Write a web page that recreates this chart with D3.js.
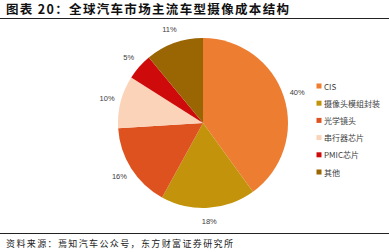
<!DOCTYPE html>
<html>
<head>
<meta charset="utf-8">
<script src="https://cdn.jsdelivr.net/npm/d3@7"></script>
<style>
  html, body { margin: 0; padding: 0; background: #fff; }
  svg { display: block; }
</style>
</head>
<body>
<svg id="chart" width="389" height="252"></svg>
<script>
// Camera cost breakdown of mainstream models in the global auto market
const categories = ["CIS", "摄像头模组封装", "光学镜头", "串行器芯片", "PMIC芯片", "其他"];
const shares = [40, 18, 16, 10, 5, 11];
const colors = ["#ED7D31", "#C3940B", "#DE5220", "#FAD3B8", "#CF0A0A", "#9A6503"];

const svg = d3.select("#chart");
const W = 389, H = 252;
const fontCN = "'Noto Sans CJK SC', 'Noto Sans', sans-serif";

// Title and rules
svg.append("text")
  .attr("x", 6).attr("y", 14)
  .attr("font-family", fontCN)
  .attr("font-size", 12.5).attr("font-weight", "bold")
  .attr("fill", "#111")
  .attr("textLength", 283).attr("lengthAdjust", "spacing")
  .text("图表 20：全球汽车市场主流车型摄像成本结构");
svg.append("line").attr("x1", 0).attr("x2", W).attr("y1", 18.5).attr("y2", 18.5)
  .attr("stroke", "#222").attr("stroke-width", 1.2);
svg.append("line").attr("x1", 0).attr("x2", W).attr("y1", 233.5).attr("y2", 233.5)
  .attr("stroke", "#222").attr("stroke-width", 1.2);
svg.append("text")
  .attr("x", 6).attr("y", 246.5)
  .attr("font-family", fontCN)
  .attr("font-size", 9).attr("fill", "#222")
  .attr("textLength", 227).attr("lengthAdjust", "spacing")
  .text("资料来源：焉知汽车公众号，东方财富证券研究所");

// Pie
const cx = 203, cy = 123, r = 85, rLabel = 99;
const pie = d3.pie().sort(null).value(d => d.v);
const data = categories.map((c, i) => ({ c, v: shares[i], color: colors[i] }));
const arcs = pie(data);
const arc = d3.arc().innerRadius(0).outerRadius(r);
const labelArc = d3.arc().innerRadius(rLabel).outerRadius(rLabel);

const g = svg.append("g").attr("transform", `translate(${cx},${cy})`);
g.selectAll("path").data(arcs).join("path")
  .attr("d", arc)
  .attr("fill", d => d.data.color);

g.selectAll("text.pct").data(arcs).join("text")
  .attr("class", "pct")
  .attr("transform", d => `translate(${labelArc.centroid(d)})`)
  .attr("text-anchor", "middle")
  .attr("dominant-baseline", "central")
  .attr("font-family", "'Liberation Sans', Arial, sans-serif")
  .attr("font-size", 7.5).attr("fill", "#404040")
  .text(d => d.data.v + "%");

// Legend
const legendY = d3.scalePoint().domain(categories).range([86, 172]);
const lg = svg.append("g");
const item = lg.selectAll("g").data(data).join("g")
  .attr("transform", d => `translate(319,${legendY(d.c)})`);
item.append("rect")
  .attr("x", -2.5).attr("y", -2.5).attr("width", 5).attr("height", 5)
  .attr("fill", d => d.color);
item.append("text")
  .attr("x", 5).attr("y", 0)
  .attr("dominant-baseline", "central")
  .attr("font-family", fontCN)
  .attr("font-size", 8).attr("fill", "#404040")
  .text(d => d.c);
</script>
</body>
</html>
